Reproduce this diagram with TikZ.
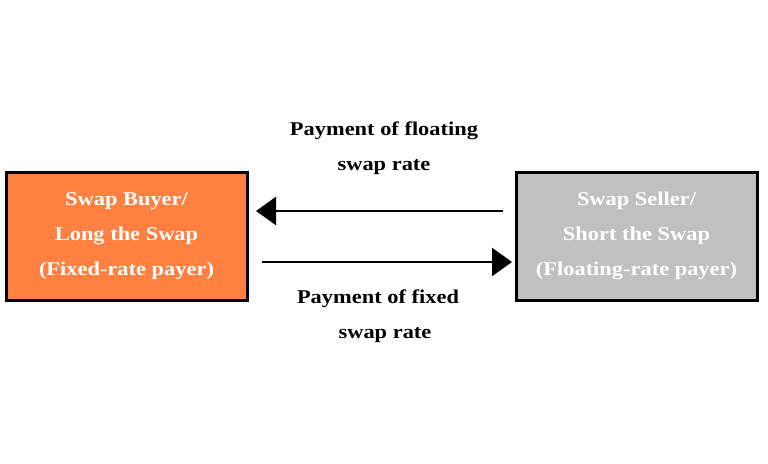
\documentclass[tikz,border=0pt]{standalone}
\usepackage{fontspec}
\setmainfont[FakeStretch=1.15]{Liberation Serif}
\usetikzlibrary{arrows.meta}
\begin{document}
\begin{tikzpicture}[x=1pt,y=-1pt,
  party/.style={draw=black,line width=3pt,minimum width=241pt,minimum height=128pt,text=white,font=\bfseries\fontsize{19.5}{35}\selectfont,align=center},
  flow/.style={line width=2.5pt,-{Triangle[length=20pt,width=28pt]}},
  lbl/.style={font=\bfseries\fontsize{19.5}{35}\selectfont,align=center}]
\useasboundingbox (0,0) rectangle (768,463);
\node[party,fill={rgb,255:red,255;green,128;blue,64}] (buyer) at (126.5,236) {Swap Buyer/\\Long the Swap\\(Fixed-rate payer)};
\node[party,fill={rgb,255:red,192;green,192;blue,192}] (seller) at (636.5,236) {Swap Seller/\\Short the Swap\\(Floating-rate payer)};
\coordinate (t1) at (503,211); \coordinate (t2) at (256,211);
\coordinate (b1) at (262,262); \coordinate (b2) at (512,262);
\draw[flow] (t1) -- (t2);
\draw[flow] (b1) -- (b2);
\node[lbl] (top) at (384,148) {Payment of floating\\swap rate};
\node[lbl] (bot) at (378,316) {Payment of fixed\\\hspace*{14pt}swap rate};
\end{tikzpicture}
\end{document}
